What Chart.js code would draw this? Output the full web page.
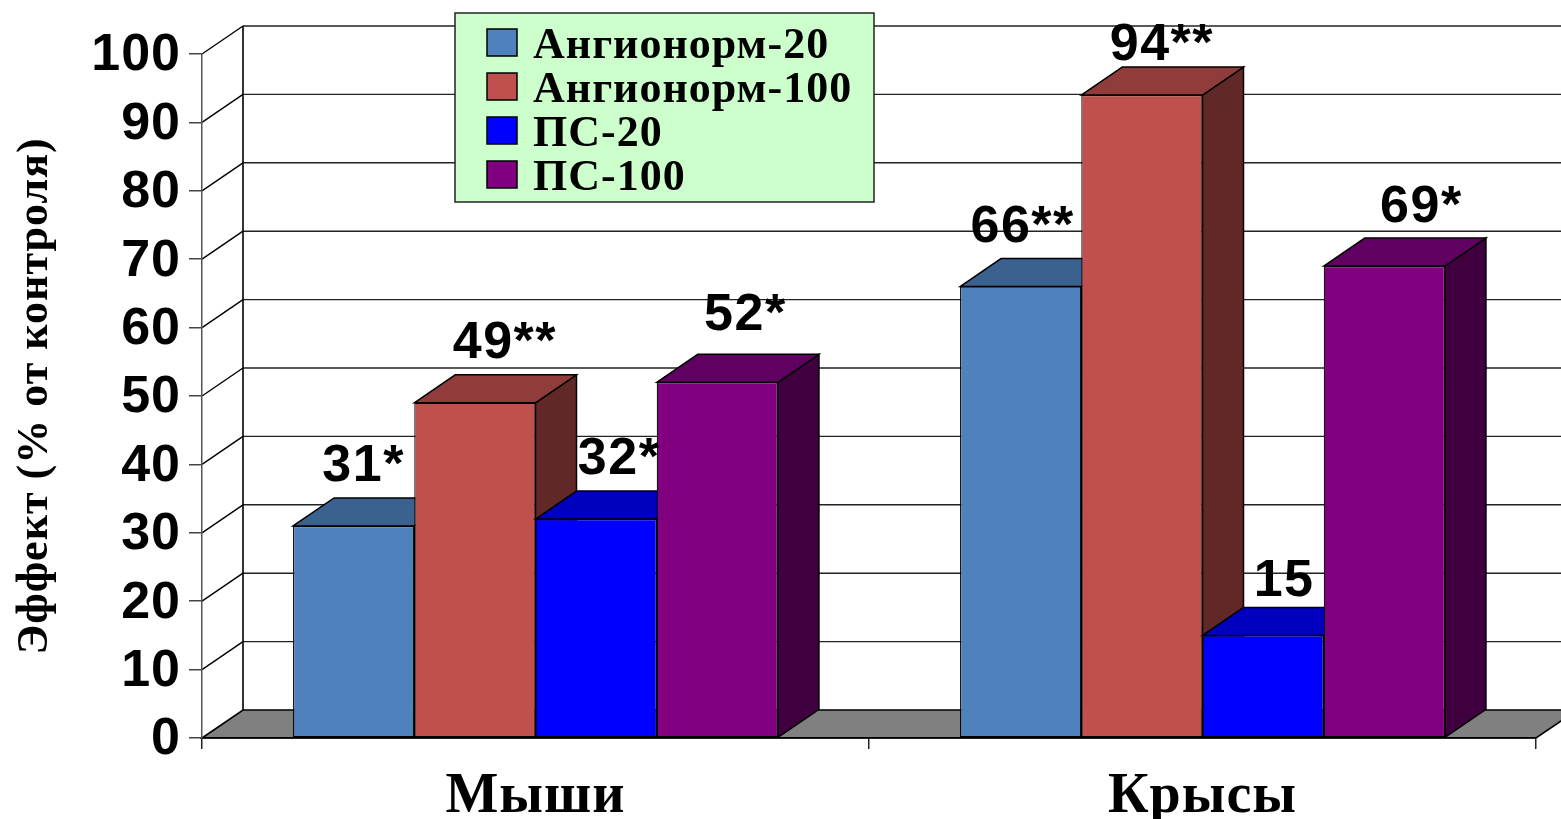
<!DOCTYPE html>
<html><head><meta charset="utf-8">
<style>html,body{margin:0;padding:0;background:#fff}canvas{display:block}</style>
<script src="https://cdn.jsdelivr.net/npm/chart.js@4"></script>
</head><body><canvas id="c" width="1561" height="819"></canvas>
<script>
const categories = ['Мыши', 'Крысы'];
const angionorm20 = [31, 66];
const angionorm100 = [49, 94];
const ps20 = [32, 15];
const ps100 = [52, 69];
const labels20a = ['31*', '66**'];
const labels100a = ['49**', '94**'];
const labels20p = ['32*', '15'];
const labels100p = ['52*', '69*'];
const yTicks = [0,10,20,30,40,50,60,70,80,90,100];

const SERIF = '"Liberation Serif"';
const SANS = '"Liberation Sans"';
const DX = 41, DY = 28;

function shade(rgb, k){ return 'rgb(' + rgb.map(v => Math.round(v*k)).join(',') + ')'; }
function poly(ctx, pts, fill, stroke, lw){
  ctx.beginPath(); pts.forEach((p,i)=> i?ctx.lineTo(p[0],p[1]):ctx.moveTo(p[0],p[1])); ctx.closePath();
  if(fill){ctx.fillStyle=fill;ctx.fill();}
  if(stroke){ctx.strokeStyle=stroke;ctx.lineWidth=lw||1.3;ctx.stroke();}
}
function line(ctx,x1,y1,x2,y2,c,w){ctx.strokeStyle=c;ctx.lineWidth=w;ctx.beginPath();ctx.moveTo(x1,y1);ctx.lineTo(x2,y2);ctx.stroke();}

const wall = {
  id:'wall',
  beforeDraw(chart){
    const {ctx, scales:{x,y}} = chart;
    const L=x.left,R=x.right,B=y.bottom;
    ctx.letterSpacing='1px';
    ctx.save();
    poly(ctx,[[L,B],[L+DX,B-DY],[R+DX,B-DY],[R,B]],'#808080','#000',1.6);
    yTicks.forEach(t=>{
      const py=y.getPixelForValue(t);
      if(t>0){
        line(ctx,L,py,L+DX,py-DY,'#000',1.4);
        line(ctx,L+DX,py-DY,chart.width,py-DY,'#222',1.4);
      }
    });
    line(ctx,L+DX,y.top-DY,L+DX,B-DY,'#000',1.6);
    ctx.restore();
  }
};

const bars3d = {
  id:'bars3d',
  beforeDatasetDraw(){ return false; },
  beforeDatasetsDraw(chart){
    const ctx=chart.ctx;
    chart.data.datasets.forEach((ds,i)=>{
      const meta=chart.getDatasetMeta(i);
      ctx.save();
      meta.data.forEach(b=>{
        const {x,y,base,width}=b.getProps(['x','y','base','width'],true);
        const l=x-width/2,r=x+width/2;
        poly(ctx,[[r,y],[r+DX,y-DY],[r+DX,base-DY],[r,base]],shade(ds.rgb,0.5),'#000',1.5);
        poly(ctx,[[l,y],[l+DX,y-DY],[r+DX,y-DY],[r,y]],shade(ds.rgb,0.75),'#000',1.5);
      });
      ctx.restore();
      meta.controller.draw();
    });
  },
  afterDatasetsDraw(chart,args,opts){
    const ctx=chart.ctx;
    ctx.save();
    ctx.fillStyle='#000';
    ctx.letterSpacing='1.5px';
    ctx.font='bold 52px '+SANS;
    ctx.textAlign='center';
    ctx.textBaseline='alphabetic';
    chart.data.datasets.forEach((ds,i)=>{
      chart.getDatasetMeta(i).data.forEach((b,j)=>{
        const off=opts.offsets[i][j];
        ctx.fillText(ds.valueLabels[j], b.x+off[0], b.y+off[1]);
      });
    });
    // legend
    const g=opts.legend;
    poly(ctx,[[g.x,g.y],[g.x+g.w,g.y],[g.x+g.w,g.y+g.h],[g.x,g.y+g.h]],'#CCFFCC','#222',1.5);
    ctx.letterSpacing='1px';
    ctx.textAlign='left';
    ctx.textBaseline='middle';
    ctx.font='bold '+g.font+'px '+SERIF;
    chart.data.datasets.forEach((ds,i)=>{
      const cy=g.y0+i*g.step;
      poly(ctx,[[g.sx,cy-13.5],[g.sx+30,cy-13.5],[g.sx+30,cy+13.5],[g.sx,cy+13.5]],ds.backgroundColor,'#000',1.5);
      ctx.fillStyle='#000';
      ctx.fillText(ds.label,g.tx,cy+4);
    });
    ctx.restore();
  }
};

const mk=(label,data,rgb,valueLabels)=>({label,data,rgb,valueLabels,backgroundColor:'rgb('+rgb.join(',')+')',borderColor:'#000',borderWidth:1.2,borderSkipped:false,categoryPercentage:0.727,barPercentage:1});

new Chart(document.getElementById('c'),{
  type:'bar',
  data:{labels:categories,datasets:[
    mk('Ангионорм-20',angionorm20,[79,129,189],labels20a),
    mk('Ангионорм-100',angionorm100,[192,80,77],labels100a),
    mk('ПС-20',ps20,[0,0,255],labels20p),
    mk('ПС-100',ps100,[128,0,128],labels100p)
  ]},
  plugins:[wall,bars3d],
  options:{
    responsive:false,animation:false,devicePixelRatio:1,
    layout:{autoPadding:false,padding:{left:0,right:25,top:54,bottom:0}},
    plugins:{legend:{display:false},tooltip:{enabled:false},
      bars3d:{
        offsets:[[[10,-45],[2,-45]],[[30,-45],[20,-35]],[[23,-45],[21,-39]],[[28,-52],[37,-44]]],
        legend:{x:455,y:13,w:419,h:189,sx:487,tx:533,y0:42.5,step:44,font:44}
      }
    },
    scales:{
      x:{
        grid:{drawOnChartArea:false,color:'#222',lineWidth:1.5,tickLength:11,offset:true},
        border:{color:'#000',width:1.5},
        ticks:{color:'#000',font:{family:SERIF,weight:'bold',size:56},padding:15,maxRotation:0},
        afterFit(s){s.height=81;}
      },
      y:{
        min:0,max:100,
        grid:{drawOnChartArea:false,color:'#444',lineWidth:1.5,tickLength:13},
        border:{color:'#555',width:1.5},
        ticks:{stepSize:10,autoSkip:false,color:'#000',labelOffset:2,font:{family:SANS,weight:'bold',size:52},padding:8},
        title:{display:true,text:'Эффект (% от контроля)',color:'#000',font:{family:SERIF,weight:'bold',size:44,lineHeight:1},padding:{top:14,bottom:0}},
        afterFit(s){s.width=202;}
      }
    }
  }
});
</script></body></html>
